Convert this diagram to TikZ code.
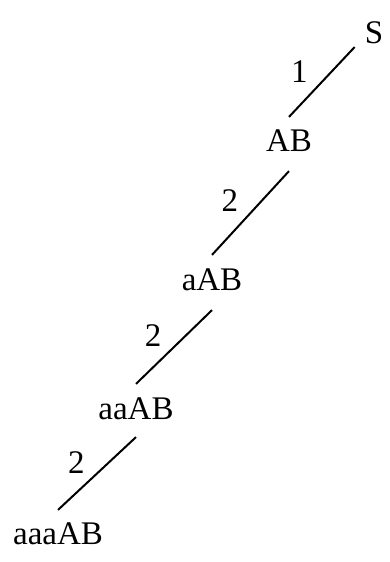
\documentclass[tikz,border=0pt]{standalone}
\usepackage{fontspec}
\setmainfont{Liberation Serif}
\usepackage{tikz}
\usetikzlibrary{positioning}

\begin{document}
\begin{tikzpicture}[
    x=1pt, y=-1pt,
    word/.style={font=\fontsize{33}{33}\selectfont, text height=21.8pt, text depth=0pt, inner sep=3pt},
    lbl/.style={font=\fontsize{33}{33}\selectfont, text height=21.8pt, text depth=0pt, inner sep=0pt},
    step line/.style={line width=2pt},
  ]
  \useasboundingbox (0,0) rectangle (390,562);
  % ---------------- derivation
  \node[word] (S)     at (374,33)  {S};
  \node[word] (AB)    at (289,141) {AB};
  \node[word] (aAB)   at (212,280) {aAB};
  \node[word] (aaAB)  at (136,409) {aaAB};
  \node[word] (aaaAB) at (58,534)  {aaaAB};

  % ---------------- steps
  \draw[step line] ([xshift=-7pt]S.south west) -- node[lbl, left=23pt, pos=0.35] {1} ([yshift=10pt]AB.north);
  \draw[step line] ([yshift=-16pt]AB.south) -- node[lbl, left=23pt, pos=0.35] {2} ([yshift=11pt]aAB.north);
  \draw[step line] ([yshift=-16pt]aAB.south) -- node[lbl, left=23pt, pos=0.35] {2} ([yshift=11pt]aaAB.north);
  \draw[step line] ([yshift=-14pt]aaAB.south) -- node[lbl, left=23pt, pos=0.35] {2} ([yshift=10pt]aaaAB.north);
\end{tikzpicture}
\end{document}
